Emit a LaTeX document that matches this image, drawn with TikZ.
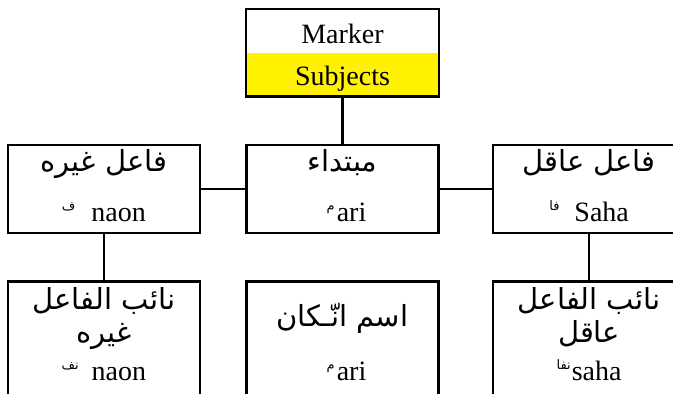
\documentclass[tikz,border=0pt]{standalone}
\usepackage{fontspec}
\setmainfont{Liberation Serif}
\newfontfamily\arabicfont[Script=Arabic]{DejaVu Sans}
\TeXXeTstate=1
\usepackage{tikz}
\usetikzlibrary{
	positioning                 % For "below=23pt of node"
}
\newcommand{\artext}[1]{{\arabicfont\fontsize{14.5}{16}\selectfont\beginR #1\endR}}
\newcommand{\arsup}[1]{\raisebox{5.5pt}{\arabicfont\fontsize{6.5}{7}\selectfont\beginR #1\endR}}
\tikzset{
	box/.style={
		draw,
		line width=1.3pt,
		minimum width=96pt,
		minimum height=44pt,
		inner sep=0pt
	},
	tall/.style={
		box,
		minimum height=66pt
	},
	half/.style={
		minimum width=96pt,
		minimum height=21.5pt,
		inner sep=0pt
	},
	lbl/.style={
		anchor=base,
		inner sep=0pt
	},
	link/.style={
		line width=1.3pt
	}
}

\begin{document}
\begin{tikzpicture}[x=0.5pt, y=-0.5pt, font=\fontsize{14}{16}\selectfont]
		\useasboundingbox (0,0) rectangle (673,394);
		\clip (0,0) rectangle (673,394);
		
		% Row 2: Middle row
		\node [box] (mid) at (342.5,189) {};
		\node [box, left=22pt of mid] (lmid) {};
		\node [box, right=26pt of mid] (rmid) {};
		
		% Row 1: Marker box (Top)
		\node [half, fill=yellow, above=23.5pt of mid] (subj) {};
		\node [half, fill=white, above=0pt of subj] (marker) {};
		\draw [link] (marker.north west) rectangle (subj.south east);
		
		% Row 3: Bottom row
		\node [tall, below=23pt of lmid] (blft) {};
		\node [tall, below=23pt of mid] (bmid) {};
		\node [tall, below=23pt of rmid] (brgt) {};
		
		% Texts
		\node [lbl] (tmark) at ([yshift=-17pt]marker.north) {Marker};
		\node [lbl] (tsubj) at ([yshift=-16.5pt]subj.north) {Subjects};
		
		\node [lbl] (lmidar) at ([yshift=-14pt]lmid.north) {\artext{فاعل غيره}};
		\node [lbl] (lmidla) at ([yshift=-39pt]lmid.north) {\arsup{ف}\hspace{8pt}naon};
		\node [lbl] (midar) at ([yshift=-14pt]mid.north) {\artext{مبتداء}};
		\node [lbl] (midla) at ([xshift=2pt, yshift=-39pt]mid.north) {\arsup{م}\hspace{1pt}ari};
		\node [lbl] (rmidar) at ([yshift=-14pt]rmid.north) {\artext{فاعل عاقل}};
		\node [lbl] (rmidla) at ([yshift=-39pt]rmid.north) {\arsup{فا}\hspace{7.5pt}Saha};
		
		\node [lbl] (blftar) at ([yshift=-14.5pt]blft.north) {\artext{نائب الفاعل}};
		\node [lbl] (blftar2) at ([yshift=-31pt]blft.north) {\artext{غيره}};
		\node [lbl] (blftla) at ([yshift=-50pt]blft.north) {\arsup{نف}\hspace{6.5pt}naon};
		\node [lbl] (bmidar) at ([yshift=-23pt]bmid.north) {\artext{اسم انّـكان}};
		\node [lbl] (bmidla) at ([xshift=2pt, yshift=-50pt]bmid.north) {\arsup{م}\hspace{1pt}ari};
		\node [lbl] (brgtar) at ([yshift=-14.5pt]brgt.north) {\artext{نائب الفاعل}};
		\node [lbl] (brgtar2) at ([yshift=-31pt]brgt.north) {\artext{عاقل}};
		\node [lbl] (brgtla) at ([yshift=-50pt]brgt.north) {\arsup{نفا}\hspace{0.5pt}saha};
		
		% Edges & Connections
		\draw [link] (subj.south) -- (mid.north);
		\draw [link] (lmid) -- (mid);
		\draw [link] (mid) -- (rmid);
		\draw [link] (lmid) -- (blft);
		\draw [link] (rmid) -- (brgt);
	\end{tikzpicture}
\end{document}
